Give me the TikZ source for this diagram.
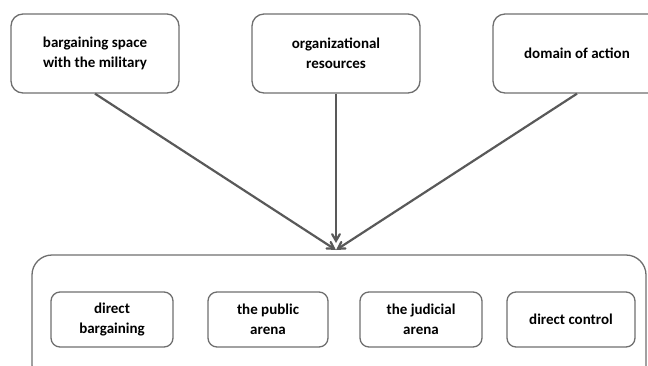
\documentclass[tikz,border=0pt]{standalone}
\usepackage{fontspec}
\setmainfont{Carlito}
\usetikzlibrary{arrows}

\definecolor{boxgray}{HTML}{6E6E6E}
\definecolor{arrgray}{HTML}{595959}

\begin{document}
\begin{tikzpicture}[x=1pt,y=-1pt,
	topbox/.style={draw=boxgray,line width=1.3pt,rounded corners=12pt,align=center,
		minimum width=168pt,minimum height=79pt,font=\fontsize{15}{20}\selectfont\bfseries},
	innerbox/.style={draw=boxgray,line width=1.3pt,rounded corners=9pt,align=center,
		minimum height=55pt,font=\fontsize{15}{20}\selectfont\bfseries},
	link/.style={->,>=angle 60,draw=arrgray,line width=2.2pt}]
\useasboundingbox (0,0) rectangle (648,365);
\node[topbox] (space) at (95,53.5) {bargaining space\\with the military};
\node[topbox] (resources) at (336,53.5) {organizational\\resources};
\node[topbox] (domain) at (577,53.5) {domain of action};
\node[draw=boxgray,line width=1.3pt,rounded corners=20pt,minimum width=614pt,minimum height=130pt] (arenas) at (339,320) {};
\node[innerbox,minimum width=122pt] (bargain) at (112,319.5) {direct\\bargaining};
\node[innerbox,minimum width=120pt] (public) at (268,319.5) {the public\\arena};
\node[innerbox,minimum width=122pt] (judicial) at (421,319.5) {the judicial\\arena};
\node[innerbox,minimum width=128pt] (control) at (571,319.5) {direct control};
\coordinate (meet) at (336,250);
\draw[link](space.south)--(meet);
\draw[link](resources.south)--(336,243);
\draw[link](domain.south)--(meet);
\end{tikzpicture}
\end{document}
